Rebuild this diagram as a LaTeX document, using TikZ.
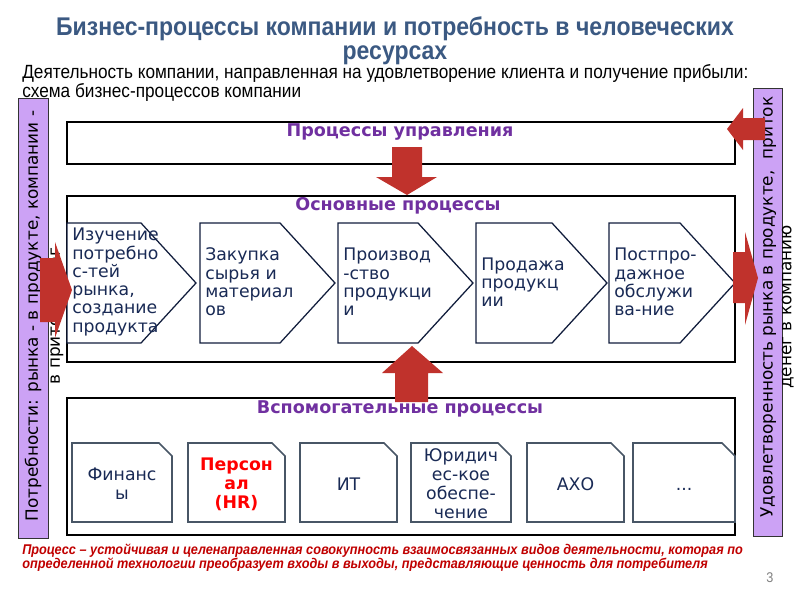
\documentclass[tikz,border=0pt]{standalone}
\usepackage{fontspec}
\setmainfont{DejaVu Sans}
\newfontfamily\narrowfont[FakeStretch=0.9]{Liberation Sans}

\definecolor{titleblue}{RGB}{59,89,130}
\definecolor{procpurple}{RGB}{112,48,160}
\definecolor{barlilac}{RGB}{204,162,245}
\definecolor{arrowred}{RGB}{192,50,44}
\definecolor{textnavy}{RGB}{25,42,85}
\definecolor{cardgray}{RGB}{72,86,102}
\definecolor{notered}{RGB}{192,0,0}

\begin{document}
\begin{tikzpicture}[
        x=0.025cm, y=-0.025cm,
        frame/.style={draw=black, line width=1.4pt},
        sidebar/.style={draw=black!80, fill=barlilac, line width=0.6pt},
        heading/.style={font=\bfseries\fontsize{12.5}{14}\selectfont, text=procpurple, inner sep=0pt},
        chev/.style={draw=textnavy!70!black, line width=0.9pt, fill=white},
        chevtext/.style={font=\fontsize{12.3}{13}\selectfont, text=textnavy, align=left, inner sep=0pt, anchor=west},
        card/.style={draw=cardgray, line width=1.1pt, fill=white},
        cardtext/.style={font=\fontsize{12.3}{13.5}\selectfont, text=textnavy, align=center, inner sep=0pt},
        hrtext/.style={cardtext, text=red, font=\bfseries\fontsize{12.3}{13.5}\selectfont},
        blockarrow/.style={fill=arrowred, draw=none}
        ]
        \useasboundingbox (0,0) rectangle (800,600);

        % titles
        \node[font=\narrowfont\bfseries\fontsize{18.2}{17.2}\selectfont, text=titleblue, align=center] (title) at (395,41)
            {Бизнес-процессы компании и потребность в человеческих\\ресурсах};
        \node[font=\narrowfont\fontsize{13.6}{13.8}\selectfont, align=left, anchor=west, inner sep=0pt] (lead) at (22,83)
            {Деятельность компании, направленная на удовлетворение клиента и получение прибыли:\\схема бизнес-процессов компании};

        % three process blocks
        \draw[frame] (67,122) rectangle (735,164);
        \draw[frame] (67,196) rectangle (735,362);
        \draw[frame] (67,398) rectangle (735,535);
        \node[heading] (upr) at (400,132) {Процессы управления};
        \node[heading] (osn) at (398,206) {Основные процессы};
        \node[heading] (vsp) at (400,409) {Вспомогательные процессы};

        % main chain
        \foreach \n/\x/\w/\txt in {
            1/67/129/{Изучение\\потребно\\с-тей\\рынка,\\создание\\продукта},
            2/200/135/{Закупка\\сырья и\\материал\\ов},
            3/338/135/{Производ\\-ство\\продукци\\и},
            4/476/131/{Продажа\\продукц\\ии},
            5/609/126/{Постпро-\\дажное\\обслужи\\ва-ние}}
        {
            \draw[chev] (\x,223) -- (\x+\w-55,223) -- (\x+\w,283) -- (\x+\w-55,343) -- (\x,343) -- cycle;
            \node[chevtext] (main\n) at (\x+5,282) {\txt};
        }

        % support processes
        \foreach \id/\x/\w/\y/\sty/\txt in {
            fin/72/100/484/cardtext/{Финанс\\ы},
            hr/188/97/484/hrtext/{Персон\\ал\\(HR)},
            it/300/97/484/cardtext/{ИТ},
            law/411/100/484/cardtext/{Юридич\\ес-кое\\обеспе-\\чение},
            axo/527/97/484/cardtext/{АХО},
            etc/633/102/489/cardtext/{...}}
        {
            \draw[card] (\x,443) -- (\x+\w-13,443) -- (\x+\w,456) -- (\x+\w,522) -- (\x,522) -- cycle;
            \node[\sty] (\id) at (\x+\w/2,\y) {\txt};
        }

        % side bars
        \draw[sidebar] (18,98) rectangle (48,538);
        \draw[sidebar] (753,88) rectangle (782,536);
        \node[rotate=90, align=center, inner sep=0pt, font=\fontsize{12}{15.6}\selectfont] (needs) at (44,316)
            {Потребности: рынка - в продукте, компании -\\в приток денег};
        \node[rotate=90, align=center, inner sep=0pt, font=\fontsize{12}{13.5}\selectfont] (result) at (777,307)
            {Удовлетворенность рынка в продукте,\ \ приток\\денег в компанию};

        % block arrows
        \fill[blockarrow] (392,147) -- (422,147) -- (422,177) -- (437,177) -- (407,195) -- (376,177) -- (392,177) -- cycle;
        \fill[blockarrow] (412,346) -- (443,373) -- (428,373) -- (428,402) -- (395,402) -- (395,373) -- (382,373) -- cycle;
        \fill[blockarrow] (40,258) -- (55,258) -- (55,242) -- (72,290) -- (55,338) -- (55,322) -- (40,322) -- cycle;
        \fill[blockarrow] (733,252) -- (745,252) -- (745,232) -- (758,278) -- (745,325) -- (745,303) -- (733,303) -- cycle;
        \fill[blockarrow] (727,129) -- (743,108) -- (743,118) -- (765,118) -- (765,140) -- (743,140) -- (743,150) -- cycle;

        % definition
        \node[font=\narrowfont\bfseries\itshape\fontsize{10.05}{10}\selectfont, text=notered, align=left, anchor=west, inner sep=0pt] (note) at (22,558)
            {Процесс – устойчивая и целенаправленная совокупность взаимосвязанных видов деятельности, которая по\\определенной технологии преобразует входы в выходы, представляющие ценность для потребителя};
        \node[font=\narrowfont\fontsize{10}{10}\selectfont, text=gray] (page) at (770,578) {3};
\end{tikzpicture}
\end{document}
